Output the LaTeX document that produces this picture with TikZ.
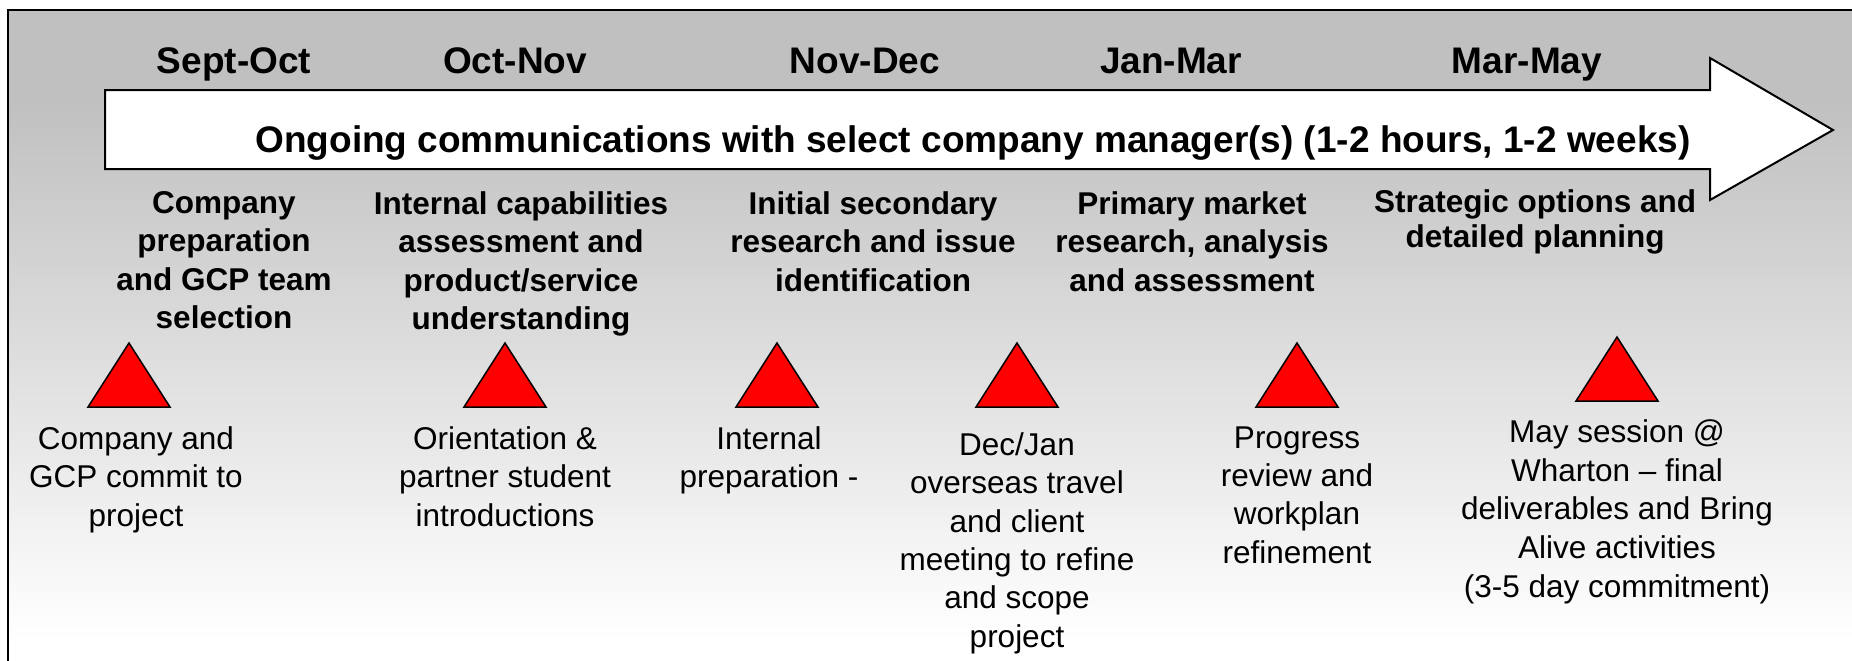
\documentclass[tikz,border=0pt]{standalone}
\usepackage{fontspec}
\setmainfont{Liberation Sans}
\usetikzlibrary{positioning}
\definecolor{bggray}{RGB}{192,192,192}
\definecolor{mkred}{RGB}{255,0,0}
\tikzset{
  month/.style={font=\fontsize{18.5pt}{22pt}\selectfont\bfseries, inner sep=0pt, anchor=base},
  phase/.style={font=\fontsize{15.75pt}{19.2pt}\selectfont\bfseries, align=center, inner sep=0pt, anchor=north},
  milestone/.style={font=\fontsize{15.75pt}{19.2pt}\selectfont, align=center, inner sep=0pt},
  marker/.style={draw=black, fill=mkred, line width=0.75pt, line join=miter},
  commarrow/.style={draw=black, fill=white, line width=1pt}
}

\begin{document}
\begin{tikzpicture}[x=0.5pt,y=-0.5pt]
\clip (0,0) rectangle (1852,660);
% background and frame
\fill[bggray] (8,10) rectangle (1900,100);
\shade[top color=bggray, bottom color=white] (8,100) rectangle (1900,640);
\fill[white] (8,640) rectangle (1900,700);
\draw[line width=1pt] (8,700) |- (1900,10);
% timeline arrow
\path[commarrow] (105,90) -- (1710,90) -- (1710,58) -- (1833,130) -- (1710,200) -- (1710,169) -- (105,169) -- cycle;
\node[month] (ongoing) at (973,152) {Ongoing communications with select company manager(s) (1-2 hours, 1-2 weeks)};
% months
\node[month] (m_sept) at (234,73) {Sept-Oct};
\node[month] (m_oct) at (515,73) {Oct-Nov};
\node[month] (m_nov) at (865,73) {Nov-Dec};
\node[month] (m_jan) at (1171,73) {Jan-Mar};
\node[month] (m_mar) at (1527,73) {Mar-May};
% phases
\node[phase] (ph_1) at (224,191) {Company\\preparation\\and GCP team\\selection};
\node[phase] (ph_2) at (521,191) {Internal capabilities\\assessment and\\product/service\\understanding};
\node[phase] (ph_3) at (873,191) {Initial secondary\\research and issue\\identification};
\node[phase] (ph_4) at (1192,191) {Primary market\\research, analysis\\and assessment};
\node[phase, font=\fontsize{15.75pt}{17.5pt}\selectfont\bfseries] (ph_5) at (1535,189) {Strategic options and\\detailed planning};
% milestones
\foreach \i/\x/\y in {1/129/407,2/505/407,3/777/407,4/1017/407,5/1297/407,6/1617/401}
  \draw[marker] (\x,\y) coordinate (tri_\i) -- ++(41,0) -- ++(-41,-64) -- ++(-41,64) -- cycle;
\node[milestone, xshift=3.5pt] (ms_1) [below=9.5pt of tri_1] {Company and\\GCP commit to\\project};
\node[milestone] (ms_2) [below=9.5pt of tri_2] {Orientation \&\\partner student\\introductions};
\node[milestone, xshift=-4pt] (ms_3) [below=9.5pt of tri_3] {Internal\\preparation -};
\node[milestone] (ms_4) [below=12.5pt of tri_4] {Dec/Jan\\overseas travel\\and client\\meeting to refine\\and scope\\project};
\node[milestone] (ms_5) [below=9.5pt of tri_5] {Progress\\review and\\workplan\\refinement};
\node[milestone, font=\fontsize{15.75pt}{19.4pt}\selectfont] (ms_6) [below=9pt of tri_6] {May session @\\Wharton -- final\\deliverables and Bring\\Alive activities\\(3-5 day commitment)};
\end{tikzpicture}
\end{document}
